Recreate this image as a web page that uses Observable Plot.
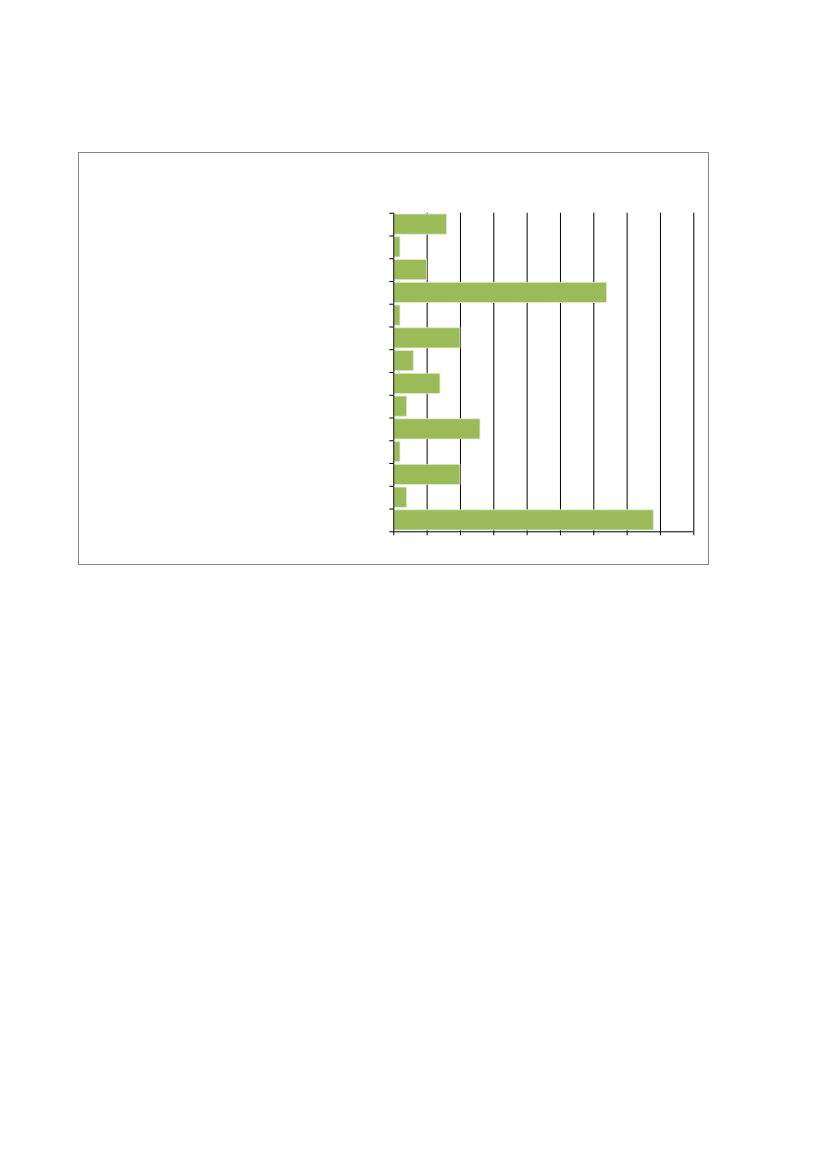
<!DOCTYPE html>
<html>
<head>
<meta charset="utf-8">
<script src="https://cdn.jsdelivr.net/npm/d3@7"></script>
<script src="https://cdn.jsdelivr.net/npm/@observablehq/plot@0.6"></script>
<style>
  html, body { margin: 0; padding: 0; background: #fff; }
  #page { position: relative; width: 827px; height: 1169px; }
  #frame { position: absolute; left: 78px; top: 152px; width: 629px; height: 411px; border: 1px solid #868686; box-sizing: content-box; }
  #chart { position: absolute; left: 0; top: 0; }
</style>
</head>
<body>
<div id="page">
  <div id="frame"></div>
  <div id="chart"></div>
</div>
<script>
// Categories (no labels are visible in the reference)
const categories = ["1", "2", "3", "4", "5", "6", "7", "8", "9", "10", "11", "12", "13", "14"];
// Values in grid units (gridlines every 1 unit, 0..9)
const values = [1.6, 0.2, 1.0, 6.4, 0.2, 2.0, 0.6, 1.4, 0.4, 2.6, 0.2, 2.0, 0.4, 7.8];
const xTicks = [0, 1, 2, 3, 4, 5, 6, 7, 8, 9];

const data = categories.map((c, i) => ({cat: c, value: values[i], i0: i, i1: i + 1}));
const yBounds = d3.range(categories.length + 1);

const chart = Plot.plot({
  width: 827,
  height: 600,
  marginLeft: 393.3,
  marginRight: 133.7,
  marginTop: 212.7,
  marginBottom: 68.7,
  x: {domain: [0, 9], ticks: xTicks, tickSize: 4, tickFormat: () => "", label: null},
  y: {domain: [0, categories.length], reverse: true, ticks: yBounds, tickSize: 4, tickFormat: () => "", label: null},
  style: {background: "transparent"},
  marks: [
    Plot.ruleX(xTicks.slice(1), {stroke: "#000", strokeWidth: 1}),
    Plot.rectX(data, {x1: 0, x2: "value", y1: "i0", y2: "i1", fill: "#9BBB59", stroke: "#dfe9cc", strokeWidth: 0.8, insetTop: 1.3, insetBottom: 1.3, insetLeft: 0.6}),
    Plot.ruleX([0], {stroke: "#000", strokeWidth: 1}),
    Plot.ruleY([categories.length], {stroke: "#000", strokeWidth: 1}),
    Plot.axisX({tickSize: 4, tickFormat: () => "", ticks: xTicks, stroke: "#000"}),
    Plot.axisY({tickSize: 4, tickFormat: () => "", ticks: yBounds, stroke: "#000"})
  ]
});
document.getElementById("chart").appendChild(chart);
</script>
</body>
</html>
